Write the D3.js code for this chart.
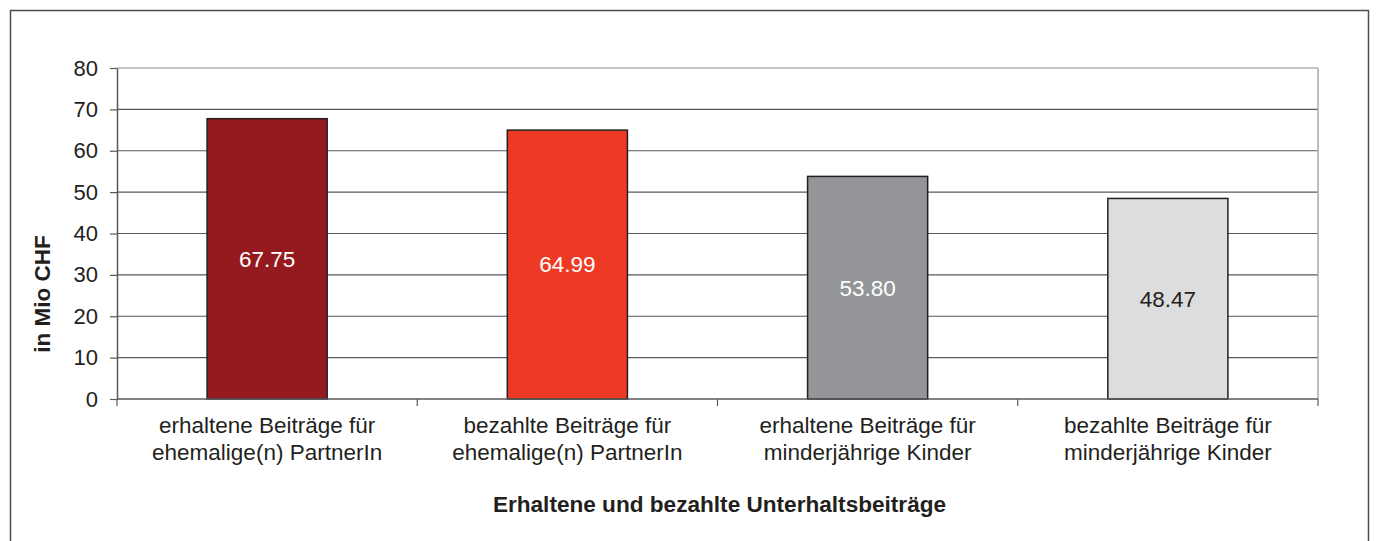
<!DOCTYPE html>
<html>
<head>
<meta charset="utf-8">
<script src="https://cdn.jsdelivr.net/npm/d3@7"></script>
<style>
  body { margin: 0; background: #fff; }
  text { font-family: "Liberation Sans", Arial, sans-serif; fill: #231f20; }
</style>
</head>
<body>
<div id="chart"></div>
<script>
// data
var categories = [
  ["erhaltene Beiträge für", "ehemalige(n) PartnerIn"],
  ["bezahlte Beiträge für", "ehemalige(n) PartnerIn"],
  ["erhaltene Beiträge für", "minderjährige Kinder"],
  ["bezahlte Beiträge für", "minderjährige Kinder"]
];
var values = [67.75, 64.99, 53.80, 48.47];
var barColors = ["#951a1f", "#ee3a24", "#939598", "#dcdddf"];
var labelColors = ["#fff", "#fff", "#fff", "#231f20"];
var yTicks = [0, 10, 20, 30, 40, 50, 60, 70, 80];
var yTitle = "in Mio CHF";
var xTitle = "Erhaltene und bezahlte Unterhaltsbeiträge";

var W = 1376, H = 541;
var margin = {top: 68, right: 58, bottom: 142, left: 117},
    width = W - margin.left - margin.right,
    height = H - margin.top - margin.bottom;

var root = d3.select("#chart")
    .append("svg")
    .attr("width", W)
    .attr("height", H);

// outer frame
root.append("rect")
    .attr("x", 10.5).attr("y", 10.5)
    .attr("width", 1358).attr("height", 540)
    .attr("fill", "none")
    .attr("stroke", "#4d4d4f")
    .attr("stroke-width", 1.5);

var svg = root.append("g")
    .attr("transform", "translate(" + margin.left + "," + margin.top + ")");

var x = d3.scaleBand()
    .domain(d3.range(categories.length))
    .range([0, width])
    .paddingInner(0.6)
    .paddingOuter(0.3);

var y = d3.scaleLinear()
    .domain([0, 80])
    .range([height, 0]);

// gridlines
svg.append("g")
    .selectAll("line")
    .data(yTicks.slice(1))
    .enter()
    .append("line")
    .attr("x1", 0).attr("x2", width)
    .attr("y1", function(d) { return y(d); })
    .attr("y2", function(d) { return y(d); })
    .attr("stroke", function(d) { return d == 80 ? "#8a8a8c" : "#58595b"; })
    .attr("stroke-width", 1.2);

// right edge of plot area
svg.append("line")
    .attr("x1", width).attr("x2", width)
    .attr("y1", 0).attr("y2", height)
    .attr("stroke", "#a7a9ac")
    .attr("stroke-width", 1.5);

// y axis
var yAxis = svg.append("g")
    .call(d3.axisLeft(y).tickValues(yTicks).tickSize(7).tickPadding(12).tickSizeOuter(0));
yAxis.select(".domain").attr("stroke", "#58595b").attr("stroke-width", 1.5);
yAxis.selectAll(".tick line").attr("stroke", "#58595b").attr("stroke-width", 1.2);
yAxis.selectAll("text")
    .style("font-size", "22px")
    .style("font-family", "Liberation Sans, Arial, sans-serif")
    .attr("fill", "#231f20");

// bars
svg.selectAll(".bar")
    .data(values)
    .enter()
    .append("rect")
    .attr("class", "bar")
    .attr("x", function(d, i) { return x(i); })
    .attr("y", function(d) { return y(d); })
    .attr("width", x.bandwidth())
    .attr("height", function(d) { return height - y(d); })
    .attr("fill", function(d, i) { return barColors[i]; })
    .attr("stroke", "#231f20")
    .attr("stroke-width", 1.5);

// value labels
svg.selectAll(".val")
    .data(values)
    .enter()
    .append("text")
    .attr("class", "val")
    .attr("x", function(d, i) { return x(i) + x.bandwidth() / 2; })
    .attr("y", function(d) { return (y(d) + height) / 2; })
    .attr("dy", "0.35em")
    .attr("text-anchor", "middle")
    .style("font-size", "22.5px")
    .style("fill", function(d, i) { return labelColors[i]; })
    .text(function(d) { return d.toFixed(2); });

// x axis line with ticks at category boundaries
svg.append("line")
    .attr("x1", 0).attr("x2", width)
    .attr("y1", height).attr("y2", height)
    .attr("stroke", "#58595b")
    .attr("stroke-width", 1.5);
var step = x.step();
svg.append("g")
    .selectAll("line")
    .data(d3.range(categories.length + 1))
    .enter()
    .append("line")
    .attr("x1", function(i) { return x(0) - x.paddingOuter() * step + i * step; })
    .attr("x2", function(i) { return x(0) - x.paddingOuter() * step + i * step; })
    .attr("y1", height).attr("y2", height + 7)
    .attr("stroke", "#58595b")
    .attr("stroke-width", 1.2);

// category labels
var cat = svg.selectAll(".cat")
    .data(categories)
    .enter()
    .append("text")
    .attr("class", "cat")
    .attr("text-anchor", "middle")
    .attr("transform", function(d, i) {
      return "translate(" + (x(i) + x.bandwidth() / 2) + "," + (height + 34) + ")";
    })
    .style("font-size", "22.5px");
cat.selectAll("tspan")
    .data(function(d) { return d; })
    .enter()
    .append("tspan")
    .attr("x", 0)
    .attr("dy", function(d, j) { return j == 0 ? 0 : 27; })
    .text(function(d) { return d; });

// axis titles
svg.append("text")
    .attr("text-anchor", "middle")
    .attr("x", width / 2 + 2)
    .attr("y", height + 113)
    .style("font-size", "22.6px")
    .style("font-weight", "bold")
    .text(xTitle);

svg.append("text")
    .attr("text-anchor", "middle")
    .attr("transform", "translate(" + (-67) + "," + 226 + ") rotate(-90)")
    .style("font-size", "22.5px")
    .style("font-weight", "bold")
    .text(yTitle);
</script>
</body>
</html>
